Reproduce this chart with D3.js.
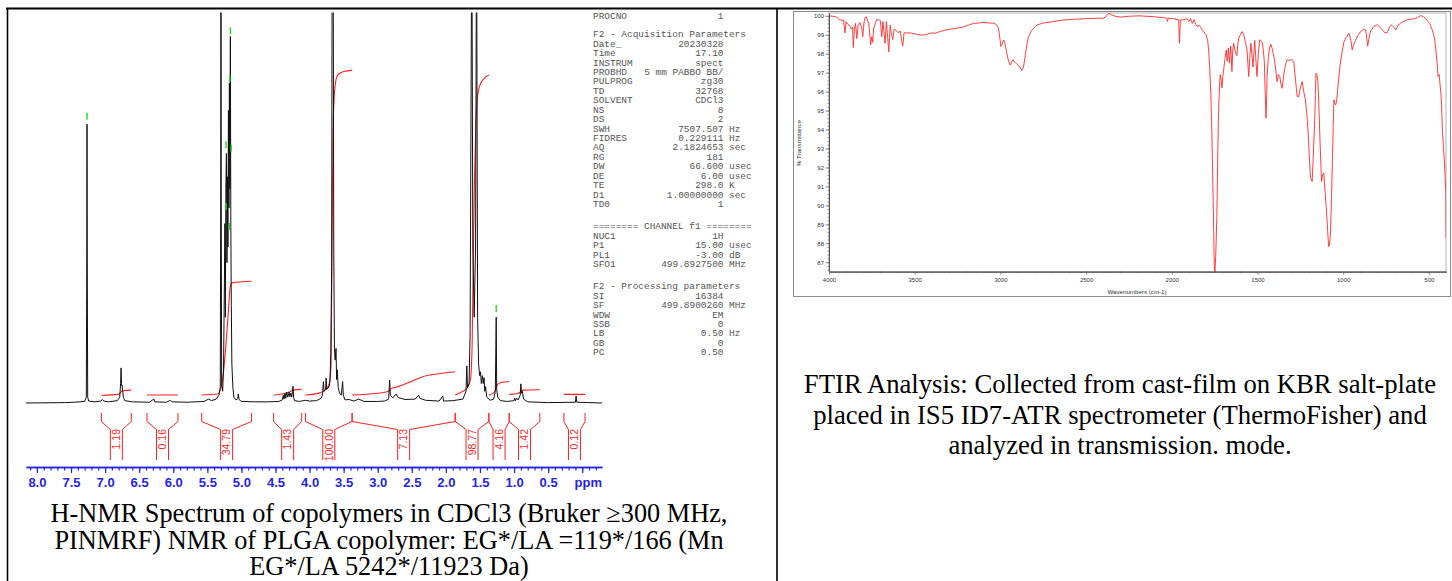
<!DOCTYPE html>
<html><head><meta charset="utf-8">
<script src="https://cdn.jsdelivr.net/npm/d3@7"></script>
<style>body{margin:0;background:#fff} svg{display:block}</style>
</head><body>
<svg id="c" width="1452" height="581"></svg>
<script>
// ---------------- DATA ----------------
// 1H NMR spectrum: [ppm, relative intensity] (100 = top of plot frame)
const nmrSpectrum = [
[8.16,0],[7.60,0.1],[7.45,0.2],[7.30,0.4],[7.275,1.5],[7.268,40],[7.265,71.5],[7.262,40],[7.255,1.5],[7.24,0.5],[7.15,0.3],[7.06,0.5],[7.04,0.9],[7.02,0.5],[6.95,0.3],[6.82,0.6],[6.785,1.5],[6.772,5],[6.765,9],[6.758,4.5],[6.75,4.6],[6.742,3],[6.73,1.4],[6.71,0.6],[6.60,0.3],[6.35,0.2],[6.285,1],[6.27,0.3],[6.10,0.2],[6.04,0.7],[6.02,0.3],[5.80,0.2],[5.55,0.4],[5.48,1],[5.44,0.6],[5.37,1],[5.33,2],
[5.31,4],[5.303,60],[5.300,125],[5.297,60],[5.29,5],[5.275,3],[5.262,9],[5.25,30],[5.242,46],[5.235,22],[5.228,55],[5.22,64],[5.212,36],[5.205,58],[5.198,40],[5.19,75],[5.183,50],[5.176,82],[5.169,55],[5.162,94],[5.155,45],[5.148,25],[5.14,10],[5.125,4],[5.11,1.5],[5.08,0.8],[5.055,1.1],[5.045,2.3],[5.035,0.9],[5.0,0.4],[4.8,0.3],[4.6,0.3],
[4.45,0.4],[4.40,0.8],[4.385,2],[4.375,1],[4.36,2.5],[4.35,1.2],[4.335,2.8],[4.32,1.5],[4.30,2.8],[4.29,1.6],[4.275,2.5],[4.262,1.5],[4.25,3],[4.242,4.3],[4.235,1.5],[4.22,0.6],[4.15,0.4],[4.06,0.7],[4.0,0.5],
[3.90,0.6],[3.83,1.2],[3.81,2],[3.797,5.5],[3.788,3],[3.765,3.5],[3.757,6.4],[3.748,3.5],[3.728,3.8],[3.71,4.4],[3.70,6],[3.688,13],[3.676,35],[3.668,125],[3.655,125],[3.645,40],[3.635,14],[3.625,11],[3.612,14],[3.603,6],[3.593,8.5],[3.58,4],[3.56,2.5],[3.535,2],[3.515,5.5],[3.505,2],[3.48,0.8],[3.42,0.9],[3.35,0.5],[3.28,1],[3.2,0.4],[3.0,0.4],
[2.90,0.5],[2.84,1],[2.825,5.9],[2.815,2],[2.78,1.3],[2.73,2.3],[2.70,1.4],[2.6,0.9],[2.45,1],[2.40,2],[2.38,1.2],[2.3,0.7],[2.1,0.5],[2.045,1.8],[2.035,0.5],[1.9,0.6],[1.75,1],[1.705,3],[1.693,9.5],[1.683,4],[1.66,5],[1.645,18],[1.62,125],[1.605,40],[1.585,22],[1.565,40],[1.55,125],[1.535,22],[1.52,10],[1.505,7],[1.492,8],[1.48,5],[1.465,7],[1.452,5],[1.44,6.5],[1.43,3],[1.418,4.2],[1.40,1.5],[1.35,0.7],[1.30,1],[1.275,3],[1.262,22],[1.255,3.5],[1.24,1.5],[1.20,0.6],[1.10,0.4],[1.00,0.6],[0.99,1.3],[0.98,0.6],[0.96,1.2],[0.94,0.8],[0.91,2],[0.90,4.9],[0.89,2.5],[0.88,3],[0.86,1],[0.80,0.3],[0.5,0.1],[0.1,0.2],[0.09,1.8],[0.08,0.2],[-0.29,0]
];
// peak-pick markers: [ppm, marker level]
const nmrPeakMarks = [[7.265,73.5],[5.162,95.4],[5.170,83.2],[5.225,66.2],[5.150,65.3],[5.225,50.4],[5.178,45.3],[1.262,24.2]];
// integration regions [from ppm, to ppm] and values
const integralRanges = [[7.054,6.615],[6.385,5.93],[5.582,4.852],[4.527,4.116],[4.06,3.376],[3.376,1.864],[1.864,1.369],[1.369,1.071],[1.071,0.622],[0.269,-0.041]];
const integralLabels = ["1.19","0.16","34.79","1.43","100.00","7.13","98.77","4.16","1.42","0.12"];
// integral curves [ppm, level]
const integralCurves = [
 [[7.054,2.0],[6.80,2.2],[6.77,2.8],[6.74,3.1],[6.615,3.3]],
 [[6.385,2.05],[5.93,2.05]],
 [[5.582,2.05],[5.35,2.3],[5.31,3.3],[5.265,7.6],[5.225,15.4],[5.19,23.8],[5.165,29.8],[5.14,30.8],[4.852,31.2]],
 [[4.527,2.0],[4.40,2.3],[4.30,2.8],[4.24,3.3],[4.116,3.5]],
 [[4.06,2.05],[3.85,2.6],[3.76,3.5],[3.71,5],[3.685,10],[3.67,40],[3.655,70],[3.64,78],[3.62,82],[3.59,84],[3.50,85],[3.376,85.3]],
 [[3.376,2.05],[3.0,2.5],[2.84,3.0],[2.81,3.6],[2.70,4.2],[2.50,5.6],[2.33,6.8],[2.10,7.5],[1.864,8.0]],
 [[1.864,2.05],[1.75,3.0],[1.69,3.8],[1.64,6],[1.615,15],[1.60,35],[1.58,58],[1.56,72],[1.54,78],[1.51,81],[1.45,83],[1.369,84.1]],
 [[1.369,2.05],[1.30,2.6],[1.27,3.5],[1.25,4.6],[1.20,5.2],[1.071,5.5]],
 [[1.071,2.2],[0.94,2.5],[0.90,2.9],[0.87,3.3],[0.622,3.4]],
 [[0.269,2.2],[-0.041,2.2]]
];
const nmrMajorTicks = [8.0,7.5,7.0,6.5,6.0,5.5,5.0,4.5,4.0,3.5,3.0,2.5,2.0,1.5,1.0,0.5,0.0];
const nmrAxisUnit = "ppm";
// acquisition / processing parameter listing: [name, value, unit]; null = blank line
const paramLines = [
 ["PROCNO","1",""], null,
 ["F2 - Acquisition Parameters"],
 ["Date_","20230328",""],["Time","17.10",""],["INSTRUM","spect",""],["PROBHD","5 mm PABBO BB/",""],
 ["PULPROG","zg30",""],["TD","32768",""],["SOLVENT","CDCl3",""],["NS","8",""],["DS","2",""],
 ["SWH","7507.507","Hz"],["FIDRES","0.229111","Hz"],["AQ","2.1824653","sec"],["RG","181",""],
 ["DW","66.600","usec"],["DE","6.00","usec"],["TE","298.0","K"],["D1","1.00000000","sec"],["TD0","1",""],
 null,
 ["======== CHANNEL f1 ========"],
 ["NUC1","1H",""],["P1","15.00","usec"],["PL1","-3.00","dB"],["SFO1","499.8927500","MHz"],
 null,
 ["F2 - Processing parameters"],
 ["SI","16384",""],["SF","499.8900260","MHz"],["WDW","EM",""],["SSB","0",""],["LB","0.50","Hz"],["GB","0",""],["PC","0.50",""]
];
// FTIR spectrum: [wavenumber cm-1, %T]
const ftirSpectrum = [
[4000,100.0],[3980,99.98],[3960,99.95],[3945,99.85],[3936,99.8],[3925,99.75],[3915,99.78],[3907,99.1],[3900,99.7],[3890,99.55],[3880,99.5],[3870,99.3],[3862,99.4],[3858,98.33],[3852,99.3],[3845,99.6],[3838,98.8],[3830,99.5],[3820,99.65],[3810,99.4],[3803,98.9],[3795,99.7],[3790,99.9],[3782,99.95],[3775,99.75],[3768,99.6],[3757,98.47],[3750,98.9],[3745,98.6],[3740,99.3],[3730,99.6],[3722,99.8],[3712,99.8],[3700,99.75],[3692,98.9],[3685,99.7],[3673,98.56],[3665,99.7],[3651,98.1],[3643,99.5],[3635,99.0],[3628,98.75],[3620,99.3],[3605,99.2],[3595,99.1],[3585,99.2],[3570,98.4],[3562,99.1],[3545,99.1],[3527,99.1],[3500,99.05],[3475,99.0],[3449,98.98],[3420,99.05],[3400,99.1],[3380,99.08],[3352,99.17],[3320,99.25],[3290,99.3],[3254,99.35],[3220,99.4],[3190,99.5],[3157,99.6],[3130,99.62],[3099,99.65],[3070,99.62],[3036,99.61],[3020,99.5],[3011,99.35],[3003,98.8],[2997,98.38],[2990,98.5],[2982,98.73],[2975,98.6],[2966,98.2],[2955,97.7],[2943,97.4],[2935,97.55],[2927,97.68],[2915,97.55],[2904,97.45],[2890,97.35],[2880,97.2],[2875,97.12],[2865,97.3],[2855,97.9],[2845,98.5],[2836,98.9],[2820,99.2],[2800,99.4],[2787,99.52],[2750,99.62],[2690,99.7],[2630,99.78],[2573,99.82],[2500,99.85],[2440,99.87],[2398,99.88],[2385,99.95],[2368,100.13],[2350,100.05],[2330,99.98],[2300,99.93],[2250,99.98],[2185,100.0],[2100,99.95],[2029,99.88],[2025,99.7],[2020,99.88],[1990,99.85],[1960,99.8],[1955,98.56],[1950,99.78],[1930,99.8],[1912,99.85],[1900,99.7],[1890,99.85],[1880,99.6],[1870,99.8],[1860,99.55],[1853,99.44],[1840,99.5],[1825,99.3],[1814,99.17],[1800,99.0],[1791,98.73],[1785,98.2],[1779,97.33],[1772,95.8],[1766,93.8],[1759,90.5],[1752,86.8],[1748,86.45],[1743,87.5],[1737,89.4],[1732,92.5],[1727,95.0],[1722,96.2],[1717,96.9],[1712,96.6],[1707,96.2],[1702,96.8],[1698,97.1],[1690,97.7],[1682,98.2],[1676,97.6],[1670,98.3],[1663,97.5],[1656,98.4],[1649,97.06],[1644,98.2],[1639,98.55],[1630,98.1],[1620,97.9],[1615,98.5],[1610,98.8],[1600,99.0],[1590,99.17],[1580,99.0],[1570,98.6],[1561,98.2],[1556,97.5],[1551,96.8],[1545,97.8],[1538,98.55],[1532,97.9],[1526,97.3],[1520,98.2],[1516,98.7],[1510,97.8],[1503,96.8],[1495,98.0],[1487,98.73],[1480,98.7],[1472,98.6],[1465,98.1],[1460,97.6],[1455,96.0],[1450,94.6],[1446,95.8],[1444,96.8],[1437,97.8],[1430,98.3],[1422,98.5],[1415,98.3],[1408,98.0],[1401,97.7],[1394,97.2],[1386,96.53],[1378,96.9],[1370,96.8],[1363,96.4],[1356,96.18],[1348,96.8],[1341,97.2],[1334,97.5],[1327,97.68],[1310,97.65],[1300,97.7],[1288,97.6],[1278,96.6],[1268,95.74],[1259,95.74],[1250,96.2],[1239,96.53],[1230,96.0],[1220,95.57],[1212,94.8],[1204,93.8],[1197,92.5],[1191,91.5],[1181,91.26],[1175,92.5],[1167,94.2],[1162,95.8],[1159,96.97],[1153,96.9],[1148,96.6],[1143,95.6],[1138,94.2],[1132,92.6],[1126,91.26],[1120,91.6],[1113,91.7],[1106,90.8],[1099,89.94],[1092,88.9],[1085,87.83],[1080,87.9],[1074,88.5],[1068,90.4],[1062,92.6],[1058,94.2],[1054,95.57],[1049,95.4],[1044,95.3],[1038,95.5],[1030,96.3],[1019,97.33],[1008,98.0],[995,98.65],[980,98.9],[966,99.08],[955,98.7],[947,98.2],[940,98.45],[928,98.7],[915,98.95],[898,99.17],[880,99.3],[869,99.26],[862,98.8],[857,98.4],[850,98.8],[840,99.2],[820,99.45],[801,99.53],[785,99.4],[770,99.25],[756,99.1],[742,99.12],[730,99.4],[719,99.53],[705,99.4],[693,99.26],[680,99.5],[660,99.65],[625,99.8],[600,99.82],[576,99.88],[560,99.95],[547,100.02],[530,99.95],[518,99.85],[505,99.7],[495,99.6],[488,99.44],[478,99.2],[469,98.9],[463,98.5],[459,98.2],[452,97.5],[446,96.8],[440,96.9],[434,96.3],[430,95.9],[426,95.4],[423,94.5],[420,93.8],[415,93.1],[410,92.4],[405,91.5],[401,90.64],[400,88.3]
];
const ftirYTicks = [100,99,98,97,96,95,94,93,92,91,90,89,88,87];
const ftirXTicks = [4000,3500,3000,2500,2000,1500,1000,500];
const ftirXLabel = "Wavenumbers (cm-1)";
const ftirYLabel = "% Transmittance";
const nmrCaption = ["H-NMR Spectrum of copolymers in CDCl3 (Bruker \u2265300 MHz,",
                    "PINMRF) NMR of PLGA copolymer: EG*/LA =119*/166 (Mn",
                    "EG*/LA 5242*/11923 Da)"];
const ftirCaption = ["FTIR Analysis: Collected from cast-film on KBR salt-plate",
                     "placed in IS5 ID7-ATR spectrometer (ThermoFisher) and",
                     "analyzed in transmission. mode."];

// ---------------- DRAW ----------------
const svg = d3.select("#c");
const RED = "#ff1f1f", BLUE = "#2424e6";

// table borders
svg.append("line").attr("x1",6).attr("x2",1452).attr("y1",8.5).attr("y2",8.5).attr("stroke","#000").attr("stroke-width",2);
svg.append("line").attr("x1",7.5).attr("x2",7.5).attr("y1",8).attr("y2",581).attr("stroke","#000").attr("stroke-width",1.6);
svg.append("line").attr("x1",777).attr("x2",777).attr("y1",8).attr("y2",581).attr("stroke","#000").attr("stroke-width",1.6);

// ---- NMR ----
const xN = d3.scaleLinear().domain([8.16,-0.29]).range([26,602]);
const yN = d3.scaleLinear().domain([0,100]).range([403,13]);
svg.append("clipPath").attr("id","nclip").append("rect").attr("x",20).attr("y",12.5).attr("width",590).attr("height",400);
const nmrG = svg.append("g").attr("clip-path","url(#nclip)");

// integral curves
const lineI = d3.line().x(d=>xN(d[0])).y(d=>yN(d[1])).curve(d3.curveMonotoneX);
nmrG.selectAll("path.int").data(integralCurves).join("path").attr("class","int")
  .attr("d",lineI).attr("fill","none").attr("stroke",RED).attr("stroke-width",1.1);

// spectrum
const lineS = d3.line().x(d=>xN(d[0])).y(d=>yN(d[1]));
nmrG.append("path").datum(nmrSpectrum).attr("d",lineS).attr("fill","none").attr("stroke","#111").attr("stroke-width",1).attr("stroke-linejoin","round");

// peak markers
svg.selectAll("line.pk").data(nmrPeakMarks).join("line").attr("class","pk")
  .attr("x1",d=>xN(d[0])).attr("x2",d=>xN(d[0])).attr("y1",d=>yN(d[1])-3.5).attr("y2",d=>yN(d[1])+3.5)
  .attr("stroke","#22dd22").attr("stroke-width",1.4);

// integral brackets + labels
const brG = svg.append("g");
integralRanges.forEach((r,i)=>{
  const xa = xN(r[0]), xb = xN(r[1]), c = (xa+xb)/2;
  const p = d3.path();
  p.moveTo(xa,413); p.lineTo(xa,421.5); p.lineTo(c-6,429.5); p.lineTo(c-6,460);
  p.moveTo(xb,413); p.lineTo(xb,421.5); p.lineTo(c+6,429.5); p.lineTo(c+6,460);
  brG.append("path").attr("d",p.toString()).attr("fill","none").attr("stroke",RED).attr("stroke-width",1);
  brG.append("text").attr("transform",`translate(${c},429) rotate(-90)`).attr("text-anchor","end").attr("dy","0.36em")
    .attr("font-family","Liberation Sans, Arial, sans-serif").attr("font-size",10.5).attr("fill",RED).text(integralLabels[i]);
});

// ppm axis
const axG = svg.append("g").attr("transform","translate(0,467)");
const minor = d3.range(-2,82).map(i=>i/10);
axG.append("g").call(d3.axisBottom(xN).tickValues(minor).tickSize(3.5).tickSizeOuter(0).tickFormat(""));
axG.append("g").call(d3.axisBottom(xN).tickValues(nmrMajorTicks).tickSize(6).tickSizeOuter(0)
   .tickFormat(d=> d===0 ? "" : d.toFixed(1)));
axG.selectAll("path.domain").attr("stroke",BLUE).attr("stroke-width",1.5);
axG.selectAll(".tick line").attr("stroke",BLUE).attr("stroke-width",1.2);
axG.selectAll(".tick text").attr("y",11).attr("fill",BLUE).attr("font-size",13).attr("font-weight","bold")
   .attr("font-family","Liberation Sans, Arial, sans-serif");
axG.append("text").attr("x",xN(0)+6).attr("y",11).attr("dy","0.71em").attr("text-anchor","middle")
   .attr("fill",BLUE).attr("font-size",13).attr("font-weight","bold").attr("font-family","Liberation Sans, Arial, sans-serif").text(nmrAxisUnit);

// parameter listing
const pG = svg.append("g").attr("font-family","Liberation Mono, Courier New, monospace").attr("font-size",9.45).attr("fill","#555");
{
  const lh = 9.43; let y = 15.5, blanks = 0;
  paramLines.forEach(l=>{
    if (l===null){ y += (blanks===0 ? 0.96 : 1.36)*lh; blanks++; return; }
    if (l.length===1){ pG.append("text").attr("x",593).attr("y",y).attr("dy","0.35em").text(l[0]); }
    else {
      pG.append("text").attr("x",593).attr("y",y).attr("dy","0.35em").text(l[0]);
      pG.append("text").attr("x",723.5).attr("y",y).attr("dy","0.35em").attr("text-anchor","end").text(l[1]);
      if (l[2]) pG.append("text").attr("x",729).attr("y",y).attr("dy","0.35em").text(l[2]);
    }
    y += lh;
  });
}

// captions
const capFont = "Liberation Serif, Times New Roman, serif";
svg.append("g").selectAll("text").data(nmrCaption).join("text")
  .attr("x",389).attr("y",(d,i)=>522+i*26.5).attr("text-anchor","middle")
  .attr("font-family",capFont).attr("font-size",26.3).attr("fill","#000").text(d=>d);
svg.append("g").selectAll("text").data(ftirCaption).join("text")
  .attr("x",1120).attr("y",(d,i)=>393+i*30.5).attr("text-anchor","middle")
  .attr("font-family",capFont).attr("font-size",26.7).attr("fill","#000").text(d=>d);

// ---- FTIR ----
svg.append("rect").attr("x",793.5).attr("y",11.5).attr("width",657).attr("height",285)
  .attr("fill","none").attr("stroke","#8a8a8a").attr("stroke-width",1);
const xF = d3.scaleLinear().domain([4000,400]).range([829,1446]);
const yF = d3.scaleLinear().domain([86.5,100.15]).range([271.7,13]);
svg.append("rect").attr("x",829).attr("y",13).attr("width",617).attr("height",258.7)
  .attr("fill","none").attr("stroke","#a0a0a0").attr("stroke-width",0.8);
svg.append("clipPath").attr("id","fclip").append("rect").attr("x",829).attr("y",12).attr("width",617).attr("height",261);
svg.append("g").attr("clip-path","url(#fclip)").append("path").datum(ftirSpectrum)
  .attr("d",d3.line().x(d=>xF(d[0])).y(d=>yF(d[1])))
  .attr("fill","none").attr("stroke","#ff2a2a").attr("stroke-width",0.9).attr("stroke-linejoin","round");

const fAxisFont = "Liberation Sans, Arial, sans-serif";
const yAx = svg.append("g").attr("transform","translate(829,0)");
yAx.append("g").call(d3.axisLeft(yF).tickValues(d3.range(433,501).map(i=>i/5)).tickSize(1.5).tickSizeOuter(0).tickFormat(""));
yAx.append("g").call(d3.axisLeft(yF).tickValues(ftirYTicks).tickSize(3.5).tickSizeOuter(0).tickPadding(1.5).tickFormat(d3.format("d")));
const xAx = svg.append("g").attr("transform","translate(0,271.7)");
xAx.append("g").call(d3.axisBottom(xF).tickValues(d3.range(4,40).map(i=>i*100)).tickSize(1.5).tickSizeOuter(0).tickFormat(""));
xAx.append("g").call(d3.axisBottom(xF).tickValues(ftirXTicks).tickSize(3).tickSizeOuter(0).tickPadding(3).tickFormat(d3.format("d")));
[yAx,xAx].forEach(g=>{
  g.selectAll("path.domain").attr("stroke","#555").attr("stroke-width",0.9);
  g.selectAll(".tick line").attr("stroke","#666").attr("stroke-width",0.7);
  g.selectAll(".tick text").attr("font-size",6).attr("fill","#333").attr("font-family",fAxisFont);
});
svg.append("text").attr("x",1137).attr("y",294).attr("text-anchor","middle").attr("font-size",6.2)
  .attr("fill","#333").attr("font-family",fAxisFont).text(ftirXLabel);
svg.append("text").attr("transform","translate(801,143) rotate(-90)").attr("text-anchor","middle").attr("font-size",6.2)
  .attr("fill","#333").attr("font-family",fAxisFont).text(ftirYLabel);
</script>
</body></html>
